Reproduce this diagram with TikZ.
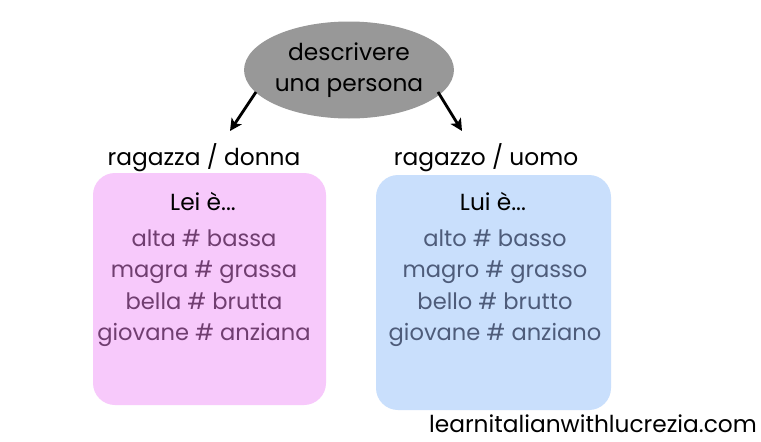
\documentclass[tikz,border=0pt]{standalone}
\usepackage{fontspec}
\setmainfont{Poppins}
\usetikzlibrary{arrows.meta,shapes.geometric}
\definecolor{ellgray}{RGB}{152,152,152}
\definecolor{pinkbox}{RGB}{247,201,251}
\definecolor{bluebox}{RGB}{201,223,252}
\definecolor{pinktext}{RGB}{112,62,112}
\definecolor{bluetext}{RGB}{78,92,122}
\tikzset{
  mainfont/.style={font=\fontsize{23.3}{28}\selectfont},
  listfont/.style={font=\fontsize{22.6}{31.5}\selectfont},
  listbox/.style={rounded corners=22pt, inner sep=0pt},
  conn/.style={line width=2.8pt, -{Stealth[length=12pt,width=12pt,inset=3pt]}},
}
\begin{document}
\begin{tikzpicture}[x=1pt,y=-1pt]
\useasboundingbox (0,0) rectangle (761,442);
\fill[white] (0,0) rectangle (761,442);
\node[ellipse, fill=ellgray, minimum width=202pt, minimum height=97pt, inner sep=0pt, align=center, font=\fontsize{23.3}{31}\selectfont] (top) at (349,70) {descrivere\\una persona};
\coordinate (ls) at (256,92);
\coordinate (rs) at (438,92);
\coordinate (lt) at (230,131);
\coordinate (rt) at (462,131);
\node[mainfont] (lab1) at (204,158) {ragazza / donna};
\node[mainfont] (lab2) at (486,158) {ragazzo / uomo};
\fill[pinkbox, listbox] (93,173) rectangle (326,405);
\fill[bluebox, listbox] (376,175) rectangle (611,410);
\node[mainfont] (lei) at (203,201) {Lei è...};
\node[listfont, text=pinktext, align=center] (flist) at (204,288) {alta \# bassa\\magra \# grassa\\bella \# brutta\\giovane \# anziana};
\node[mainfont] (lui) at (493,201) {Lui è...};
\node[listfont, text=bluetext, align=center] (mlist) at (495,288) {alto \# basso\\magro \# grasso\\bello \# brutto\\giovane \# anziano};
\node[mainfont, anchor=base] (web) at (593,432) {learnitalianwithlucrezia.com};
\draw[conn] (ls) -- (lt);
\draw[conn] (rs) -- (rt);
\end{tikzpicture}
\end{document}
